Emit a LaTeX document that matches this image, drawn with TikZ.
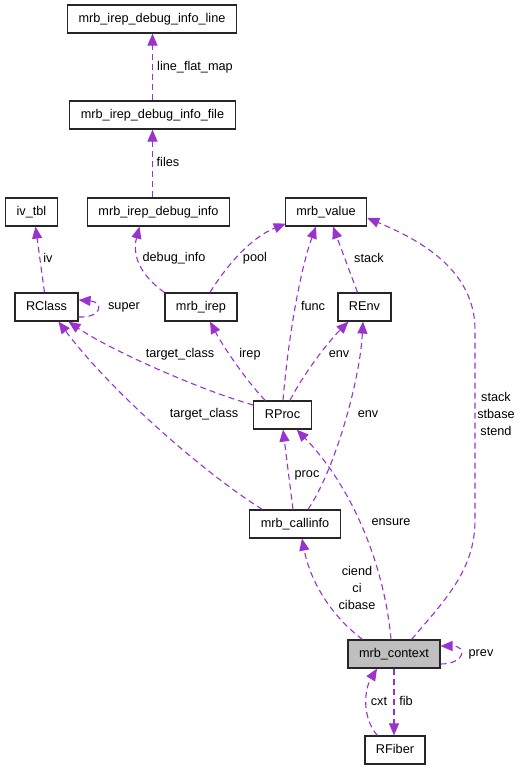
\documentclass[tikz,border=0pt]{standalone}
\usepackage{fontspec}
\setmainfont{Liberation Sans}
\usepackage{xcolor}
\usetikzlibrary{arrows.meta, calc}
\definecolor{edgepurple}{HTML}{9A32CD}
\definecolor{ctxgray}{HTML}{BFBFBF}

\begin{document}
\begin{tikzpicture}[x=1pt,y=-1pt,
        box/.style={draw=black!85, line width=1.2pt, minimum height=28pt, inner xsep=11pt, inner ysep=0pt,
            text height=9pt, text depth=3pt, font=\fontsize{12.7}{17}\selectfont},
        edge/.style={draw=edgepurple, line width=1.1pt, dash pattern=on 6pt off 4pt,
            -{Triangle[length=12pt,width=10pt,fill=edgepurple]}},
        lbl/.style={inner sep=0pt, align=center, font=\fontsize{12.7}{17}\selectfont}]
        \useasboundingbox (0,0) rectangle (521,771);

        %Shape: Rectangle [id:line]
        \node [box] (line) at (152,19) {mrb\_irep\_debug\_info\_line};
        %Shape: Rectangle [id:file]
        \node [box] (file) at (152.5,115) {mrb\_irep\_debug\_info\_file};
        %Shape: Rectangle [id:ivtbl]
        \node [box] (ivtbl) at (31.5,212) {iv\_tbl};
        %Shape: Rectangle [id:dbginfo]
        \node [box] (dbginfo) at (158.5,212) {mrb\_irep\_debug\_info};
        %Shape: Rectangle [id:value]
        \node [box] (value) at (326,212) {mrb\_value};
        %Shape: Rectangle [id:rclass]
        \node [box] (rclass) at (46.5,307) {RClass};
        %Shape: Rectangle [id:irep]
        \node [box] (irep) at (201,307) {mrb\_irep};
        %Shape: Rectangle [id:renv]
        \node [box] (renv) at (364.5,307) {REnv};
        %Shape: Rectangle [id:rproc]
        \node [box] (rproc) at (282.5,415) {RProc};
        %Shape: Rectangle [id:callinfo]
        \node [box] (callinfo) at (295,524) {mrb\_callinfo};
        %Shape: Rectangle [id:context]
        \node [box, fill=ctxgray] (context) at (394,654) {mrb\_context};
        %Shape: Rectangle [id:rfiber]
        \node [box] (rfiber) at (395,750) {RFiber};

        %Connectors
        \draw [edge] (file.north) -- (file.north |- line.south);
        \draw [edge] (file.south |- dbginfo.north) -- (file.south);
        \draw [edge] ($(rclass.north)+(-2,0)$) -- ($(ivtbl.south)+(4,0)$);
        \draw [edge] (irep.north west) .. controls (140,275) and (132,255) .. ($(dbginfo.south)+(-19,0)$);
        \draw [edge] ($(irep.north)+(9,0)$) .. controls (225,268) and (250,238) .. ($(value.south west)+(1,-3)$);
        \draw [edge] ($(rclass.east)+(0,10)$) .. controls (102,318) and (104,302) .. ($(rclass.east)+(0,-7)$);
        \draw [edge] ($(rproc.west)+(0,-10)$) .. controls (200,390) and (110,350) .. ($(rclass.south)+(22,0)$);
        \draw [edge] ($(callinfo.north west)+(13,0)$) .. controls (200,470) and (110,390) .. ($(rclass.south)+(12,0)$);
        \draw [edge] ($(rproc.north west)+(12,0)$) .. controls (250,385) and (225,350) .. ($(irep.south)+(9,0)$);
        \draw [edge] ($(rproc.north)+(0.5,0)$) .. controls (288,340) and (300,270) .. ($(value.south)+(-10,0)$);
        \draw [edge] ($(renv.north)+(-7,0)$) -- ($(value.south)+(7,0)$);
        \draw [edge] ($(rproc.north)+(7.5,0)$) .. controls (300,380) and (325,345) .. ($(renv.south)+(-16,0)$);
        \draw [edge] ($(callinfo.north)+(13,0)$) .. controls (335,470) and (360,380) .. ($(renv.south)+(-1.5,0)$);
        \draw [edge] ($(callinfo.north)+(-2,0)$) -- ($(rproc.south)+(0.5,0)$);
        \draw [edge] ($(context.north)+(-3,0)$) .. controls (385,570) and (355,490) .. ($(rproc.south east)+(-15,0)$);
        \draw [edge] ($(context.north west)+(15,0)$) .. controls (330,615) and (310,580) .. ($(callinfo.south)+(7,0)$);
        \draw [edge] ($(context.north east)+(-29,0)$) .. controls (445,600) and (475,570) .. (475,520) -- (475,330)
            .. controls (475,270) and (420,240) .. ($(value.east)+(0,6)$);
        \draw [edge] ($(context.east)+(0,10)$) .. controls (465,664) and (468,646) .. ($(context.east)+(0,-8)$);
        \draw [edge] (context.south) -- (context.south |- rfiber.north);
        \draw [edge] ($(rfiber.north west)+(13,0)$) .. controls (362,718) and (364,690) .. ($(context.south)+(-17,0)$);

        % Text Node
        \node [lbl] (l-lfm) at (195,67) {line\_flat\_map};
        % Text Node
        \node [lbl] (l-files) at (168,162) {files};
        % Text Node
        \node [lbl] (l-iv) at (48,258) {iv};
        % Text Node
        \node [lbl] (l-dbg) at (174,258) {debug\_info};
        % Text Node
        \node [lbl] (l-pool) at (255,258) {pool};
        % Text Node
        \node [lbl] (l-super) at (124,307) {super};
        % Text Node
        \node [lbl] (l-tc1) at (180,354) {target\_class};
        % Text Node
        \node [lbl] (l-irep) at (250,354) {irep};
        % Text Node
        \node [lbl] (l-tc2) at (204,414) {target\_class};
        % Text Node
        \node [lbl] (l-func) at (313,306) {func};
        % Text Node
        \node [lbl] (l-stack) at (369,258) {stack};
        % Text Node
        \node [lbl] (l-env1) at (339,354) {env};
        % Text Node
        \node [lbl] (l-env2) at (368,414) {env};
        % Text Node
        \node [lbl] (l-stk) at (496,414) {stack\\stbase\\stend};
        % Text Node
        \node [lbl] (l-proc) at (307,475) {proc};
        % Text Node
        \node [lbl] (l-ensure) at (391,522) {ensure};
        % Text Node
        \node [lbl] (l-ci) at (357,588) {ciend\\ci\\cibase};
        % Text Node
        \node [lbl] (l-prev) at (481,654) {prev};
        % Text Node
        \node [lbl] (l-cxt) at (379,701) {cxt};
        % Text Node
        \node [lbl] (l-fib) at (406,701) {fib};

\end{tikzpicture}
\end{document}
